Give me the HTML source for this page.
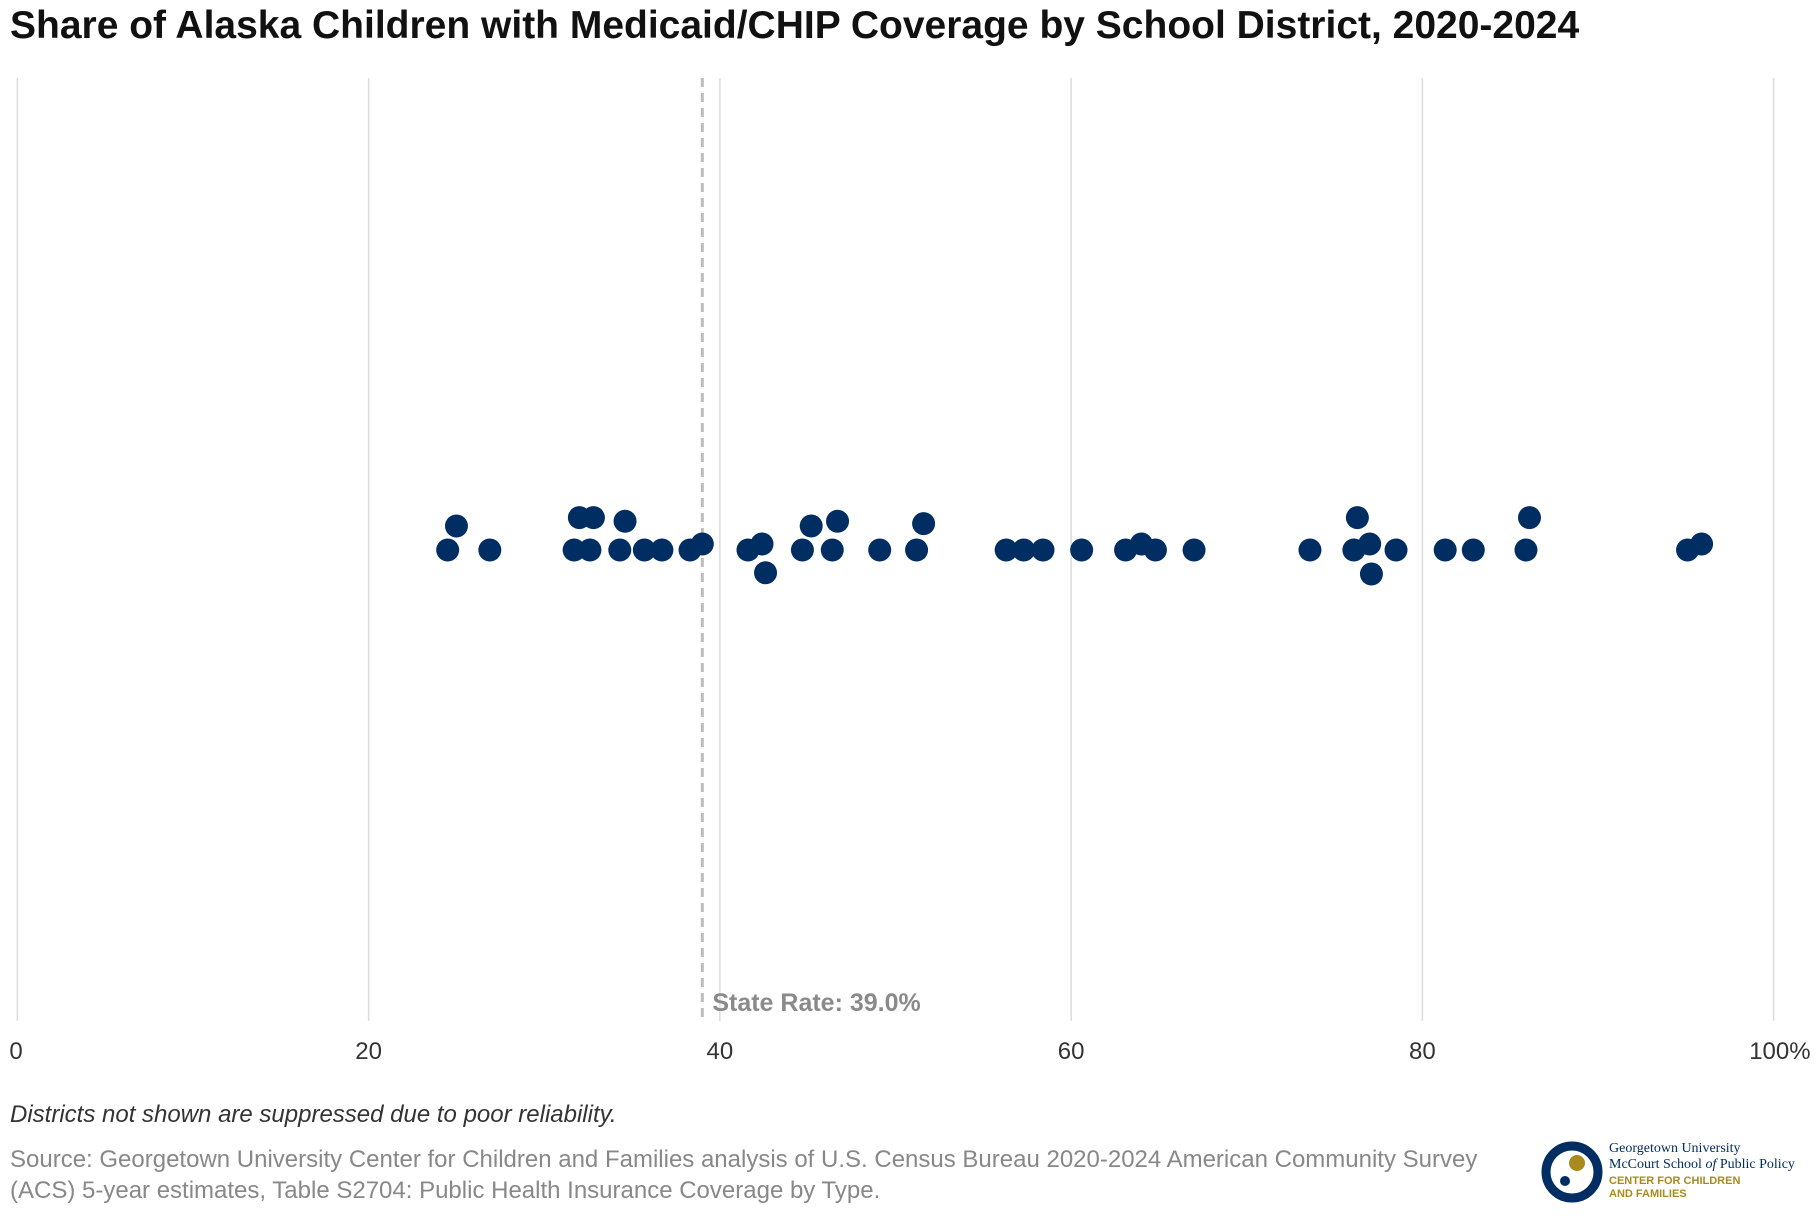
<!DOCTYPE html>
<html><head><meta charset="utf-8"><style>
body{margin:0;width:1820px;height:1220px;background:#fff;font-family:"Liberation Sans",sans-serif;overflow:hidden;position:relative}
.t{position:absolute;white-space:nowrap}
</style></head><body>
<div class="t" style="left:10px;top:4px;font-size:39px;font-weight:bold;color:#111">Share of Alaska Children with Medicaid/CHIP Coverage by School District, 2020-2024</div>
<svg id="chart" width="1820" height="1100" style="position:absolute;left:0;top:0"></svg>
<div class="t" style="left:10px;top:1101px;font-size:24px;font-style:italic;color:#333">Districts not shown are suppressed due to poor reliability.</div>
<div class="t" style="left:10px;top:1144px;font-size:24px;line-height:31px;color:#888">Source: Georgetown University Center for Children and Families analysis of U.S. Census Bureau 2020-2024 American Community Survey<br>(ACS) 5-year estimates, Table S2704: Public Health Insurance Coverage by Type.</div>
<div style="position:absolute;left:1541px;top:1141px;width:270px;height:62px">
<svg width="62" height="62" style="position:absolute;left:0;top:0"><circle cx="31" cy="31" r="26" fill="none" stroke="#002d62" stroke-width="9"/><circle cx="36" cy="22" r="8" fill="#a88a1e"/><circle cx="24" cy="40" r="5" fill="#002d62"/></svg>
<div class="t" style="left:68px;top:0;font-family:'Liberation Serif',serif;font-size:14px;line-height:16px;color:#002d62">Georgetown University<br>McCourt School <i>of</i> Public Policy</div>
<div class="t" style="left:68px;top:34px;font-size:11px;line-height:13px;color:#a88a1e;font-weight:bold">CENTER FOR CHILDREN<br>AND FAMILIES</div>
</div>
<script>
const values=[24.5,26.9,31.7,32.6,34.3,35.7,36.7,38.3,41.6,44.7,46.4,49.1,51.2,56.3,57.3,58.4,60.6,63.1,64.8,67.0,73.6,76.1,78.5,81.3,82.9,85.9,95.1,
39.0,42.4,64.0,77.0,95.9,
25.0,32.0,32.8,34.6,45.2,46.7,51.6,76.3,86.1,
42.6,77.1];
const lanes=[0,0,0,0,0,0,0,0,0,0,0,0,0,0,0,0,0,0,0,0,0,0,0,0,0,0,0,
0.25,0.25,0.25,0.25,0.25,
1.0,1.35,1.35,1.2,1.0,1.2,1.1,1.35,1.35,
-0.95,-1.0];
const ticks=[0,20,40,60,80,100];
const tickLabels=["0","20","40","60","80","100%"];
const stateRate=39.0;
const L=17.4,R=1773.6,T=78,B=1021,CY=550,LANE=24;
const x=v=>L+(R-L)*v/100;
const y=l=>CY-l*LANE;
const svg=document.getElementById('chart');const NS='http://www.w3.org/2000/svg';
function mk(tag,a){const e=document.createElementNS(NS,tag);for(const k in a)e.setAttribute(k,a[k]);svg.appendChild(e);return e;}
ticks.forEach((t,i)=>{
const g=mk('line',{x1:x(t),x2:x(t),y1:T,y2:B,stroke:'#dcdcdc','stroke-width':1.5});


const tx=mk('text',{x:x(t),y:1059,'font-size':24,fill:'#333','text-anchor':i==0?'start':(i==ticks.length-1?'end':'middle')});
if(i==0)tx.setAttribute('x',x(t)-8);
if(i==ticks.length-1)tx.setAttribute('x',x(t)+37);
tx.textContent=tickLabels[i];


});
const sl=mk('line',{x1:x(stateRate),x2:x(stateRate),y1:T,y2:B,stroke:'#bdbdbd','stroke-width':3,'stroke-dasharray':'9,6'});


const st=mk('text',{x:x(stateRate)+10,y:1011,'font-size':25,'font-weight':'bold',fill:'#8a8a8a'});
st.textContent='State Rate: '+stateRate.toFixed(1)+'%';


values.forEach((v,i)=>{
const c=mk('circle',{cx:x(v),cy:y(lanes[i]),r:11.5,fill:'#002d62'});


});
</script>
</body></html>
